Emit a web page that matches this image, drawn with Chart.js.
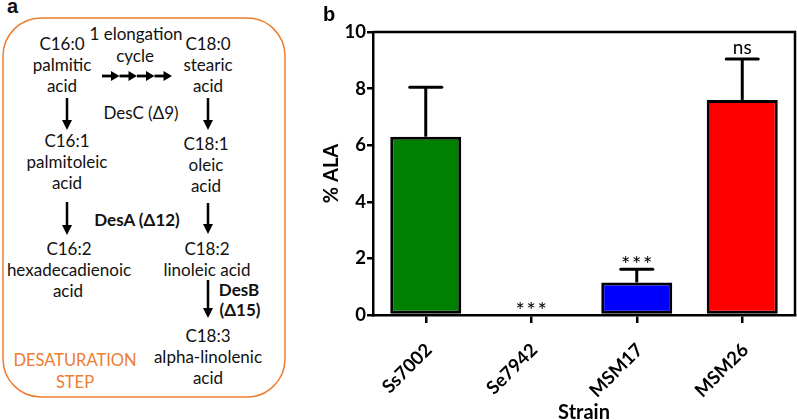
<!DOCTYPE html>
<html>
<head>
<meta charset="utf-8">
<script src="https://cdn.jsdelivr.net/npm/chart.js@4/dist/chart.umd.min.js"></script>
<style>
  html, body { margin: 0; padding: 0; background: #fff; }
  #wrap { position: relative; width: 797px; height: 420px; overflow: hidden; }
  #pathway { position: absolute; left: 0; top: 0; }
  #myChart { position: absolute; left: 0; top: 0; }
  #pathway text { font-family: Lato, "Open Sans", sans-serif; font-size: 17px; fill: #111; text-anchor: middle; }
  #pathway text.b { font-weight: bold; }
  #pathway text.or { fill: #ed7d31; font-size: 16.5px; }
  #pathway text.lbl { font-family: "Liberation Sans", Arial, sans-serif; font-weight: bold; font-size: 20px; text-anchor: start; }
</style>
</head>
<body>
<div id="wrap">
<svg id="pathway" width="300" height="420" xmlns="http://www.w3.org/2000/svg">
  <text class="lbl" x="7" y="13">a</text>
  <rect x="3" y="18" width="282" height="379" rx="38" ry="38" fill="none" stroke="#ed7d31" stroke-width="1.5"/>

  <text x="62" y="50">C16:0</text>
  <text x="62" y="71">palmitic</text>
  <text x="62" y="92">acid</text>

  <text x="136" y="40">1 elongation</text>
  <text x="135" y="62">cycle</text>

  <text x="208" y="50">C18:0</text>
  <text x="208" y="71">stearic</text>
  <text x="208" y="92">acid</text>

  <g id="elong" stroke="#000" fill="#000"></g>

  <text x="141" y="119">DesC (Δ9)</text>

  <text x="67" y="147">C16:1</text>
  <text x="67" y="168">palmitoleic</text>
  <text x="67" y="189">acid</text>

  <text x="206" y="150">C18:1</text>
  <text x="206" y="171">oleic</text>
  <text x="206" y="192">acid</text>

  <text class="b" x="137" y="226">DesA (Δ12)</text>

  <text x="69" y="255">C16:2</text>
  <text x="69" y="276">hexadecadienoic</text>
  <text x="68" y="297">acid</text>

  <text x="207" y="255">C18:2</text>
  <text x="207" y="276">linoleic acid</text>

  <text class="b" x="239" y="296">DesB</text>
  <text class="b" x="240" y="316">(Δ15)</text>

  <text x="208" y="342">C18:3</text>
  <text x="208" y="363">alpha-linolenic</text>
  <text x="208" y="384">acid</text>

  <text class="or" x="75" y="366">DESATURATION</text>
  <text class="or" x="75" y="388">STEP</text>

  <g id="down" stroke="#000" fill="#000"></g>
</svg>
<canvas id="myChart" width="797" height="420"></canvas>
</div>
<script>
/* data */
const strains = ["Ss7002", "Se7942", "MSM17", "MSM26"];
const alaPercent = [6.3, 0, 1.15, 7.6];
const alaSd = [1.75, 0, 0.47, 1.45];
const signif = ["", "***", "***", "ns"];
const yTicks = [0, 2, 4, 6, 8, 10];

/* pathway arrows */
const NS = "http://www.w3.org/2000/svg";
const addEl = (parent, tag, attrs) => {
  const el = document.createElementNS(NS, tag);
  Object.entries(attrs).forEach(([k, v]) => el.setAttribute(k, v));
  parent.appendChild(el);
};
const down = document.getElementById("down");
[[67, 98, 130], [208, 98, 130], [67, 202, 235], [208, 203, 234], [208, 280, 318]].forEach(([x, y1, y2]) => {
  addEl(down, "line", { x1: x, y1: y1, x2: x, y2: y2 - 8, "stroke-width": 2.5 });
  addEl(down, "polygon", { points: `${x - 5},${y2 - 10} ${x + 5},${y2 - 10} ${x},${y2}`, stroke: "none" });
});
const elong = document.getElementById("elong");
[102, 119.5, 137, 154.5].forEach((x) => {
  addEl(elong, "line", { x1: x, y1: 76, x2: x + 10, y2: 76, "stroke-width": 2.8 });
  addEl(elong, "polygon", { points: `${x + 9},71 ${x + 9},81 ${x + 17.5},76`, stroke: "none" });
});

/* error bars + significance marks */
const errorBars = {
  id: "errorBars",
  afterDatasetsDraw(chart) {
    const { ctx, scales: { x, y } } = chart;
    ctx.save();
    ctx.strokeStyle = "#000";
    ctx.fillStyle = "#000";
    ctx.lineWidth = 3;
    alaPercent.forEach((v, i) => {
      const cx = x.getPixelForValue(i);
      let top = y.getPixelForValue(v + alaSd[i]);
      if (alaSd[i] > 0) {
        ctx.beginPath();
        ctx.lineCap = "butt";
        ctx.moveTo(cx, y.getPixelForValue(v));
        ctx.lineTo(cx, top);
        ctx.stroke();
        ctx.beginPath();
        ctx.lineCap = "round";
        ctx.moveTo(cx - 16, top);
        ctx.lineTo(cx + 16, top);
        ctx.stroke();
      }
      const mark = signif[i];
      if (!mark) return;
      ctx.textAlign = "center";
      ctx.textBaseline = "alphabetic";
      if (mark === "ns") {
        ctx.font = "19px Lato";
        ctx.fillText(mark, cx, top - 5);
      } else {
        ctx.font = "22px Lato";
        const m = ctx.measureText("*");
        const base = top - 10 + (m.actualBoundingBoxAscent - m.actualBoundingBoxDescent) / 2;
        [-11, 0, 11].forEach((dx) => ctx.fillText("*", cx + dx, base));
      }
    });
    ctx.restore();
  },
};

const frame = {
  id: "frame",
  afterDraw(chart) {
    const { ctx, chartArea: a } = chart;
    ctx.save();
    ctx.strokeStyle = "#000";
    ctx.lineWidth = 2.5;
    ctx.beginPath();
    ctx.moveTo(a.left, a.top);
    ctx.lineTo(a.right, a.top);
    ctx.lineTo(a.right, a.bottom);
    ctx.stroke();
    ctx.font = "bold 20px 'Liberation Sans', Arial, sans-serif";
    ctx.fillText("b", 323, 21);
    ctx.restore();
  },
};

const ctx = document.getElementById("myChart");
new Chart(ctx, {
  type: "bar",
  data: {
    labels: strains,
    datasets: [
      {
        data: alaPercent,
        backgroundColor: ["#008000", "#ffffff", "#0000ff", "#ff0000"],
        borderColor: "#000",
        borderWidth: [3, 0, 3, 3],
        borderSkipped: false,
        barPercentage: 0.673,
        categoryPercentage: 1,
      },
    ],
  },
  options: {
    responsive: false,
    animation: false,
    devicePixelRatio: 1,
    layout: { padding: { left: 300, right: 2, top: 32, bottom: 0 } },
    plugins: { legend: { display: false }, tooltip: { enabled: false } },
    scales: {
      x: {
        afterFit: (s) => { s.height = 105; },
        grid: { offset: false, drawOnChartArea: false, tickLength: 8, color: "#000", lineWidth: 2.5 },
        border: { color: "#000", width: 2.5 },
        ticks: {
          minRotation: 45,
          maxRotation: 45,
          padding: 16,
          labelOffset: 3,
          color: "#000",
          font: { family: "Lato", size: 18.5, weight: "bold" },
        },
        title: {
          display: true,
          text: "Strain",
          color: "#000",
          padding: { top: 0, bottom: -5 },
          font: { family: "Lato", size: 20, weight: "bold" },
        },
      },
      y: {
        min: 0,
        max: 10,
        afterFit: (s) => { s.width = 73; },
        afterBuildTicks: (s) => { s.ticks = yTicks.map((v) => ({ value: v })); },
        grid: { drawOnChartArea: false, tickLength: 6, color: "#000", lineWidth: 2.5 },
        border: { color: "#000", width: 2.5 },
        ticks: {
          padding: 1,
          color: "#000",
          font: { family: "Lato", size: 18.5, weight: "bold" },
        },
        title: {
          display: true,
          text: "% ALA",
          color: "#000",
          padding: { top: 20, bottom: 0 },
          font: { family: "Lato", size: 20, weight: "bold" },
        },
      },
    },
  },
  plugins: [errorBars, frame],
});
</script>
</body>
</html>
